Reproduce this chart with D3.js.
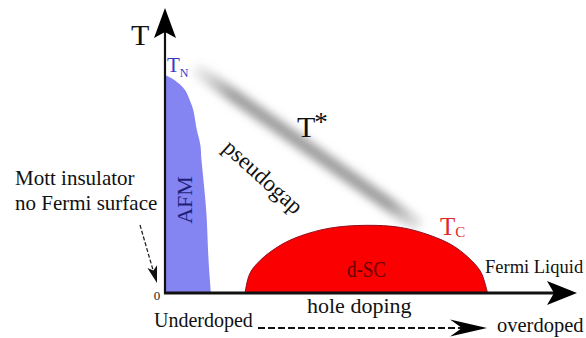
<!DOCTYPE html>
<html>
<head>
<meta charset="utf-8">
<script src="https://cdn.jsdelivr.net/npm/d3@7"></script>
<style>
  html, body { margin: 0; padding: 0; background: #fff; }
  svg { display: block; }
</style>
</head>
<body>
<svg id="chart" width="586" height="338"></svg>
<script>
// Schematic cuprate phase diagram: temperature vs hole doping.

// Antiferromagnetic boundary T_N(p)
const afmDoping = [0, 0.008, 0.017, 0.021, 0.024, 0.027, 0.030, 0.031, 0.035, 0.037, 0.039];
const afmTemp   = [306, 299, 285, 271, 257, 229, 208, 187, 116, 46, 0];

// Superconducting dome T_c(p)
const scDoping = [0.068, 0.072, 0.081, 0.098, 0.115, 0.140, 0.171, 0.200, 0.225, 0.246, 0.263, 0.269, 0.274];
const scTemp   = [0, 27, 46, 67, 80, 91, 95, 92, 81, 65, 41, 27, 0];

// Pseudogap crossover T*(p)
const tStarDoping = [0.030, 0.212];
const tStarTemp   = [310, 99];

// Axis tick labels
const tempTicks = [0];

const SERIF = "'Liberation Serif', 'Times New Roman', Tinos, 'DejaVu Serif', serif";

const svg = d3.select("#chart").attr("font-family", SERIF);

const x = d3.scaleLinear().domain([0, 0.35]).range([165, 577]);
const y = d3.scaleLinear().domain([0, 400]).range([293, 8]);

const defs = svg.append("defs");
defs.append("filter").attr("id", "soft")
  .attr("x", "-30%").attr("y", "-30%").attr("width", "160%").attr("height", "160%")
  .append("feGaussianBlur").attr("stdDeviation", 4.2);

const grad = defs.append("linearGradient").attr("id", "tstarGrad")
  .attr("gradientUnits", "userSpaceOnUse")
  .attr("x1", x(tStarDoping[0])).attr("y1", y(tStarTemp[0]))
  .attr("x2", x(tStarDoping[1])).attr("y2", y(tStarTemp[1]));
grad.append("stop").attr("offset", "0%").attr("stop-color", "#909090").attr("stop-opacity", 0.2);
grad.append("stop").attr("offset", "15%").attr("stop-color", "#909090").attr("stop-opacity", 0.85);
grad.append("stop").attr("offset", "88%").attr("stop-color", "#909090").attr("stop-opacity", 0.85);
grad.append("stop").attr("offset", "100%").attr("stop-color", "#909090").attr("stop-opacity", 0.3);

// Pseudogap crossover band
const tStarPts = tStarDoping.map((d, i) => [d, tStarTemp[i]]);
svg.append("path")
  .attr("d", d3.line().x(d => x(d[0])).y(d => y(d[1]))(tStarPts))
  .attr("stroke", "url(#tstarGrad)")
  .attr("stroke-width", 14)
  .attr("stroke-linecap", "round")
  .attr("fill", "none")
  .attr("filter", "url(#soft)");

// AFM region, closed along the temperature axis
const afmPts = afmDoping.map((d, i) => [d, afmTemp[i]]);
const afmLine = d3.line().x(d => x(d[0])).y(d => y(d[1])).curve(d3.curveCatmullRom.alpha(0.5));
svg.append("path")
  .attr("d", afmLine(afmPts) + `L${x(0)},${y(0)}Z`)
  .attr("fill", "#8484f2");

// Superconducting dome
const scPts = scDoping.map((d, i) => [d, scTemp[i]]);
const scLine = d3.line().x(d => x(d[0])).y(d => y(d[1])).curve(d3.curveCatmullRom.alpha(0.5));
svg.append("path")
  .attr("d", scLine(scPts) + "Z")
  .attr("fill", "#fb0000")
  .attr("stroke", "#8e1020")
  .attr("stroke-width", 1);

// Arrowhead with a notched base
function arrowHead(tx, ty, angleDeg, len, half, notch) {
  const a = angleDeg * Math.PI / 180;
  const ux = Math.cos(a), uy = Math.sin(a);
  const px = -uy, py = ux;
  const bx = tx - ux * len, by = ty - uy * len;
  const nx = tx - ux * (len - notch), ny = ty - uy * (len - notch);
  return `M${tx},${ty}L${bx + px * half},${by + py * half}L${nx},${ny}L${bx - px * half},${by - py * half}Z`;
}

// Axes
const x0 = x(0), y0 = y(0);
svg.append("line")
  .attr("x1", x0).attr("y1", y0 + 1).attr("x2", x0).attr("y2", y(400) + 20)
  .attr("stroke", "#111").attr("stroke-width", 2.2);
svg.append("path").attr("d", arrowHead(x0, y(400), -90, 30, 11, 6)).attr("fill", "#000");

svg.append("line")
  .attr("x1", x0 - 1).attr("y1", y0).attr("x2", x(0.35) - 20).attr("y2", y0)
  .attr("stroke", "#111").attr("stroke-width", 3);
svg.append("path").attr("d", arrowHead(x(0.35), y0, 0, 30, 12, 7)).attr("fill", "#000");

// Tick label at the origin
svg.selectAll("text.tick").data(tempTicks).enter().append("text")
  .attr("class", "tick")
  .attr("x", x0 - 8).attr("y", d => y(d) + 7)
  .attr("text-anchor", "middle")
  .attr("font-size", 13).attr("fill", "#222")
  .text(d => d);

// Axis title T
svg.append("text").attr("x", 131).attr("y", 45)
  .attr("font-size", 30).attr("fill", "#111").text("T");

// T_N label
const tn = svg.append("text").attr("x", 167).attr("y", 72).attr("fill", "#3838c8");
tn.append("tspan").attr("font-size", 21).text("T");
tn.append("tspan").attr("font-size", 12).attr("dy", 5).text("N");

// T* label
const ts = svg.append("text").attr("x", 297).attr("y", 137).attr("fill", "#111");
ts.append("tspan").attr("font-size", 30).text("T");
ts.append("tspan").attr("font-size", 27).attr("dy", -6).attr("dx", -1).text("*");

// pseudogap label
svg.append("text")
  .attr("transform", "translate(262,178) rotate(42)")
  .attr("text-anchor", "middle").attr("y", 6)
  .attr("font-size", 23).attr("fill", "#111")
  .text("pseudogap");

// AFM label
svg.append("text")
  .attr("transform", "translate(192,200) rotate(-90)")
  .attr("text-anchor", "middle")
  .attr("font-size", 22).attr("fill", "#1f1f78")
  .text("AFM");

// d-SC label
svg.append("text").attr("x", 347).attr("y", 277)
  .attr("font-size", 24).attr("fill", "#6a0000")
  .attr("textLength", 39).attr("lengthAdjust", "spacingAndGlyphs")
  .text("d-SC");

// T_c label
const tc = svg.append("text").attr("x", 440).attr("y", 235).attr("fill", "#e0282a");
tc.append("tspan").attr("font-size", 25).text("T");
tc.append("tspan").attr("font-size", 15).attr("dy", 2).text("C");

// Fermi Liquid label
svg.append("text").attr("x", 485).attr("y", 273)
  .attr("font-size", 18.5).attr("fill", "#111")
  .text("Fermi Liquid");

// Mott insulator note and its arrow
svg.append("text").attr("x", 15).attr("y", 185)
  .attr("font-size", 21).attr("fill", "#111").text("Mott insulator");
svg.append("text").attr("x", 15).attr("y", 210)
  .attr("font-size", 21).attr("fill", "#111").text("no Fermi surface");

const mAng = Math.atan2(283 - 225, 157 - 140) * 180 / Math.PI;
svg.append("line")
  .attr("x1", 140).attr("y1", 225).attr("x2", 153).attr("y2", 270)
  .attr("stroke", "#222").attr("stroke-width", 1.3).attr("stroke-dasharray", "4,2");
svg.append("path").attr("d", arrowHead(157, 283, mAng, 17, 5, 4)).attr("fill", "#111");

// Doping direction
svg.append("text").attr("x", 307).attr("y", 313)
  .attr("font-size", 22).attr("fill", "#111").text("hole doping");
svg.append("text").attr("x", 154).attr("y", 327)
  .attr("font-size", 20).attr("fill", "#111").text("Underdoped");
svg.append("text").attr("x", 497).attr("y", 332)
  .attr("font-size", 20.5).attr("fill", "#111")
  .text("overdoped");

svg.append("line")
  .attr("x1", 258).attr("y1", 328).attr("x2", 462).attr("y2", 328)
  .attr("stroke", "#111").attr("stroke-width", 2).attr("stroke-dasharray", "7,3");
svg.append("path").attr("d", arrowHead(487, 328, 0, 37, 8.5, 12)).attr("fill", "#000");
</script>
</body>
</html>
